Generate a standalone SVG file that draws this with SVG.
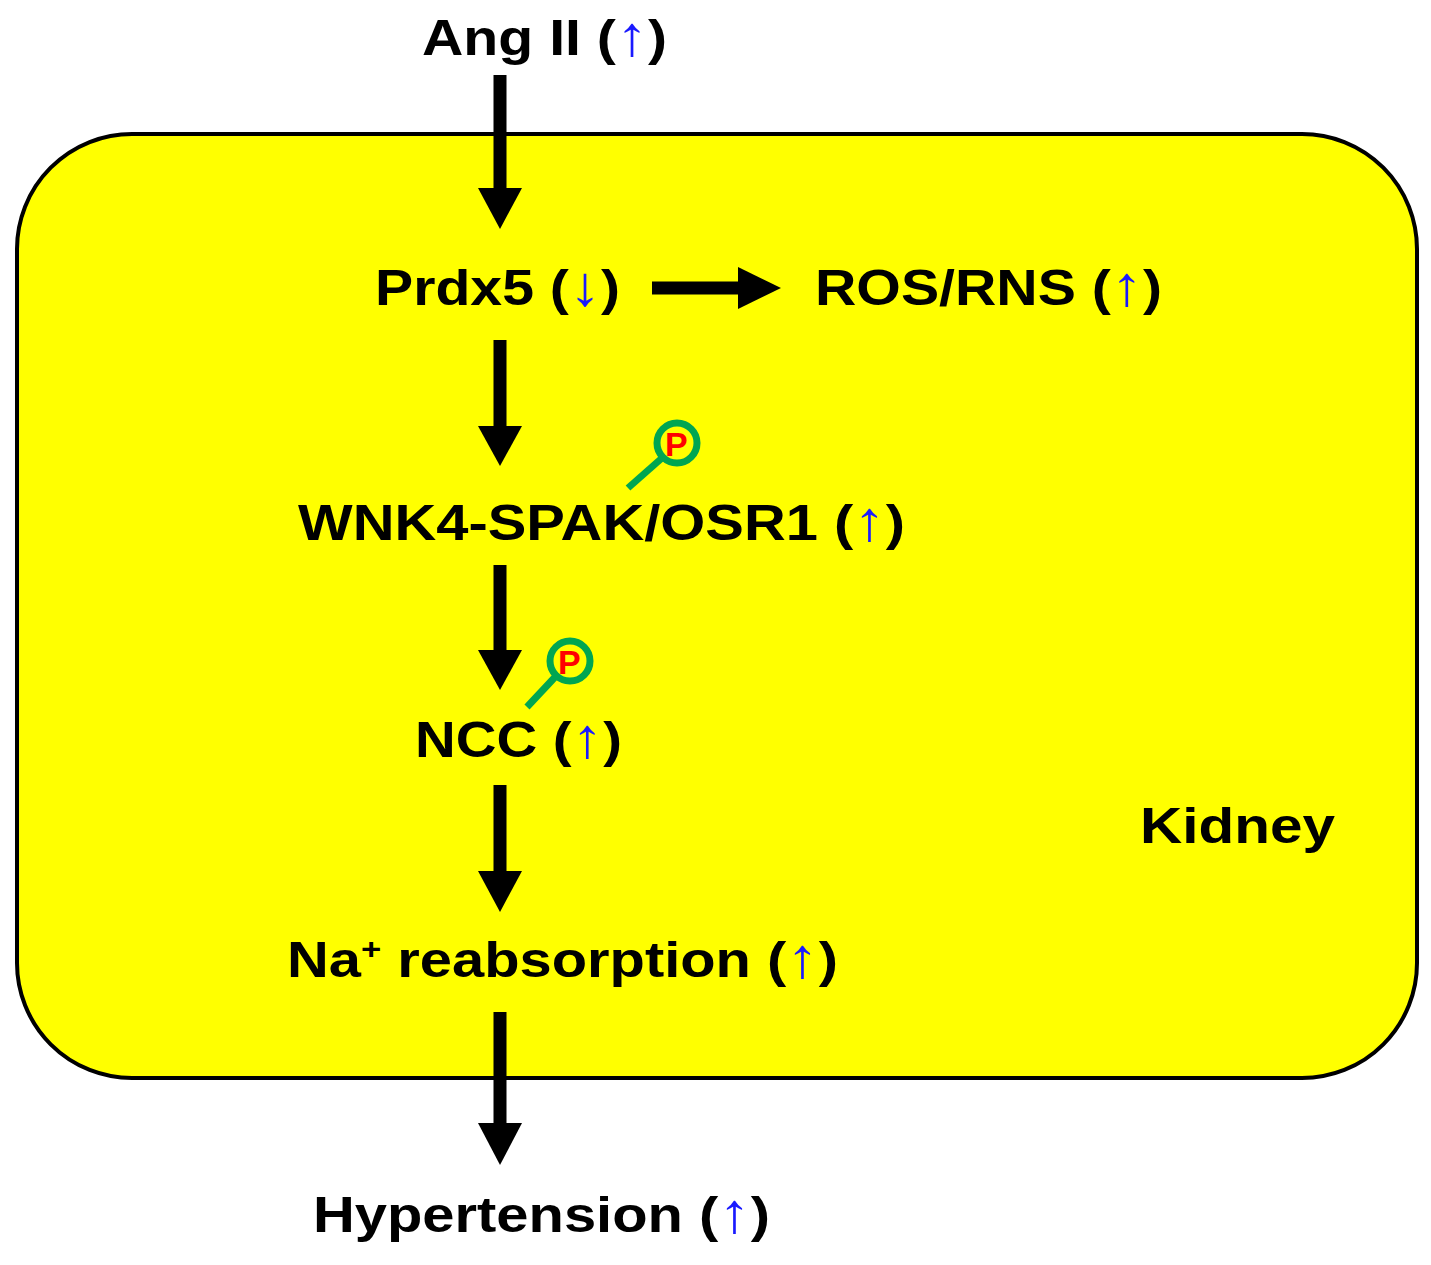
<svg xmlns="http://www.w3.org/2000/svg" width="1431" height="1265" viewBox="0 0 1431 1265">
<style>
text{font-family:"Liberation Sans",Arial,sans-serif;font-weight:bold;font-size:50px;fill:#000}
.b{fill:#1a1aff;font-weight:normal;font-size:56px}
.s{stroke:#000;stroke-width:13;fill:none}
.h{fill:#000}
.pc{fill:none;stroke:#00a651;stroke-width:7}
.pt{fill:#ff0000;font-size:34px}
</style>
<rect width="1431" height="1265" fill="#fff"/>
<g id="kidney"><rect x="17" y="134" width="1400" height="944" rx="115" fill="#ffff00" stroke="#000" stroke-width="4"/>
<text x="1140" y="843" textLength="195" lengthAdjust="spacingAndGlyphs">Kidney</text></g>
<g id="connectors">
<line class="s" x1="500" y1="75" x2="500" y2="190"/><polygon class="h" points="478,188 522,188 500,229"/>
<line class="s" x1="652" y1="288" x2="740" y2="288"/><polygon class="h" points="738,267 738,309 781,288"/>
<line class="s" x1="500" y1="340" x2="500" y2="428"/><polygon class="h" points="478,426 522,426 500,466"/>
<line class="s" x1="500" y1="565" x2="500" y2="652"/><polygon class="h" points="478,650 522,650 500,690"/>
<line class="s" x1="500" y1="785" x2="500" y2="873"/><polygon class="h" points="478,871 522,871 500,912"/>
<line class="s" x1="500" y1="1012" x2="500" y2="1125"/><polygon class="h" points="478,1123 522,1123 500,1165"/>
</g>
<g id="angii"><text x="422" y="55" textLength="245" lengthAdjust="spacingAndGlyphs">Ang II (<tspan class="b">↑</tspan>)</text></g>
<g id="prdx5"><text x="375" y="305" textLength="245" lengthAdjust="spacingAndGlyphs">Prdx5 (<tspan class="b">↓</tspan>)</text></g>
<g id="ros"><text x="815" y="305" textLength="347" lengthAdjust="spacingAndGlyphs">ROS/RNS (<tspan class="b">↑</tspan>)</text></g>
<g id="wnk4"><text x="298" y="540" textLength="607" lengthAdjust="spacingAndGlyphs">WNK4-SPAK/OSR1 (<tspan class="b">↑</tspan>)</text>
<line x1="628" y1="488" x2="662" y2="458" stroke="#00a651" stroke-width="7"/>
<circle class="pc" cx="677" cy="443" r="20"/><text class="pt" x="665" y="456">P</text></g>
<g id="ncc"><text x="415" y="757" textLength="207" lengthAdjust="spacingAndGlyphs">NCC (<tspan class="b">↑</tspan>)</text>
<line x1="527" y1="707" x2="556" y2="676" stroke="#00a651" stroke-width="7"/>
<circle class="pc" cx="570" cy="661" r="20"/><text class="pt" x="558" y="674">P</text></g>
<g id="na"><text x="287" y="977" textLength="551" lengthAdjust="spacingAndGlyphs">Na<tspan font-size="30" dy="-18">+</tspan><tspan dy="18"> reabsorption (</tspan><tspan class="b">↑</tspan>)</text></g>
<g id="hyper"><text x="313" y="1232" textLength="457" lengthAdjust="spacingAndGlyphs">Hypertension (<tspan class="b">↑</tspan>)</text></g>
</svg>
